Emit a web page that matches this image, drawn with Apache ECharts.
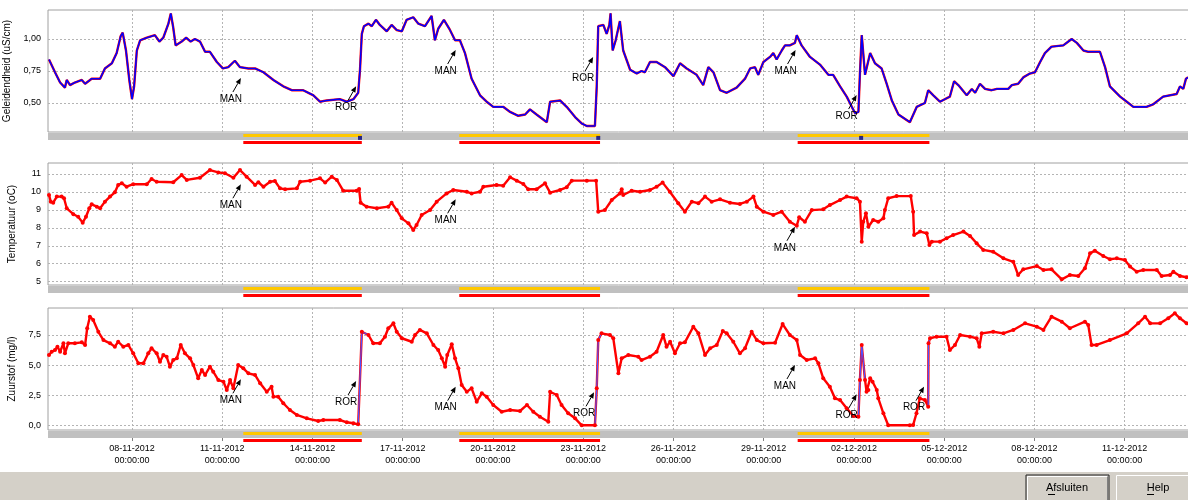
<!DOCTYPE html>
<html>
<head>
<meta charset="utf-8">
<script src="https://cdn.jsdelivr.net/npm/echarts@6/dist/echarts.min.js"></script>
<style>
  body { margin: 0; background: #fff; }
  #chart { width: 1188px; height: 500px; }
</style>
</head>
<body>
<div id="chart"></div>
<script>
// x values are day numbers counted from 1 november 2012 (december = 30 + day)
var tickDays = [8, 11, 14, 17, 20, 23, 26, 29, 32, 35, 38, 41];

var geleidendheid = [
  [5.24,0.84],[5.44,0.74],[5.61,0.66],[5.77,0.62],[5.83,0.68],[5.94,0.64],[6.10,0.66],[6.33,0.68],[6.44,0.65],[6.66,0.69],
  [6.94,0.69],[7.10,0.77],[7.33,0.81],[7.49,0.89],[7.62,1.02],[7.69,1.05],[7.80,0.91],[7.91,0.68],[8.00,0.53],[8.07,0.63],
  [8.16,0.91],[8.27,0.99],[8.49,1.01],[8.76,1.03],[8.91,0.98],[9.04,1.01],[9.21,1.12],[9.29,1.20],[9.37,1.09],[9.45,0.95],
  [9.65,0.98],[9.80,1.01],[9.95,0.98],[10.09,1.00],[10.26,0.98],[10.43,0.90],[10.59,0.90],[10.82,0.82],[11.02,0.77],[11.20,0.78],
  [11.42,0.83],[11.59,0.78],[11.87,0.77],[12.09,0.77],[12.37,0.74],[12.70,0.68],[13.03,0.63],[13.31,0.60],[13.69,0.60],[14.03,0.56],
  [14.25,0.51],[14.47,0.52],[14.91,0.53],[15.14,0.51],[15.36,0.53],[15.52,0.58],[15.58,0.76],[15.64,1.04],[15.71,1.10],[15.86,1.12],
  [15.97,1.10],[16.11,1.15],[16.24,1.11],[16.47,1.06],[16.63,1.11],[16.80,1.07],[16.97,1.06],[17.13,1.15],[17.35,1.17],[17.52,1.12],
  [17.74,1.10],[17.96,1.18],[18.07,0.99],[18.18,1.08],[18.37,1.15],[18.55,1.08],[18.74,0.99],[18.90,0.99],[19.07,0.89],[19.29,0.69],
  [19.57,0.56],[19.79,0.51],[20.01,0.47],[20.34,0.47],[20.57,0.43],[20.84,0.40],[21.07,0.41],[21.23,0.45],[21.45,0.41],[21.79,0.35],
  [21.90,0.51],[22.23,0.52],[22.45,0.47],[22.73,0.39],[22.95,0.34],[23.12,0.32],[23.39,0.32],[23.45,0.63],[23.50,1.10],[23.67,1.11],
  [23.78,1.04],[23.87,1.11],[23.91,1.20],[23.98,0.91],[24.08,0.99],[24.22,1.14],[24.33,0.91],[24.56,0.76],[24.78,0.73],[24.94,0.75],
  [25.05,0.74],[25.22,0.82],[25.44,0.82],[25.72,0.78],[26.00,0.71],[26.22,0.81],[26.44,0.77],[26.77,0.72],[26.99,0.64],[27.16,0.78],
  [27.33,0.74],[27.55,0.60],[27.77,0.58],[28.10,0.62],[28.38,0.69],[28.55,0.77],[28.71,0.78],[28.82,0.72],[28.99,0.82],[29.21,0.86],
  [29.32,0.89],[29.43,0.84],[29.60,0.91],[29.71,0.95],[29.87,0.95],[30.04,0.97],[30.10,1.03],[30.26,0.95],[30.54,0.86],[30.87,0.80],
  [31.15,0.72],[31.31,0.72],[31.54,0.63],[31.76,0.55],[31.93,0.47],[32.04,0.42],[32.15,0.43],[32.20,0.73],[32.26,1.03],[32.37,0.72],
  [32.54,0.89],[32.70,0.81],[32.92,0.77],[33.09,0.65],[33.26,0.52],[33.48,0.41],[33.86,0.35],[34.09,0.47],[34.36,0.50],[34.47,0.60],
  [34.64,0.56],[34.86,0.51],[35.19,0.55],[35.33,0.67],[35.47,0.64],[35.75,0.56],[35.92,0.61],[36.03,0.58],[36.19,0.65],[36.36,0.61],
  [36.58,0.60],[36.75,0.61],[37.13,0.61],[37.25,0.64],[37.46,0.65],[37.63,0.70],[37.85,0.73],[38.02,0.74],[38.19,0.82],[38.35,0.89],
  [38.57,0.94],[38.96,0.95],[39.24,1.00],[39.41,0.97],[39.63,0.91],[39.79,0.90],[40.18,0.90],[40.35,0.78],[40.51,0.63],[40.85,0.55],
  [41.07,0.51],[41.29,0.47],[41.73,0.47],[41.95,0.49],[42.28,0.55],[42.73,0.57],[42.84,0.63],[42.95,0.61],[43.04,0.69],[43.11,0.70]
];

var temperatuur = [
  [5.24,9.83],[5.30,9.46],[5.38,9.40],[5.50,9.74],[5.66,9.74],[5.74,9.65],[5.83,9.09],[6.05,8.76],[6.21,8.62],[6.36,8.29],
  [6.47,8.62],[6.58,9.09],[6.66,9.31],[6.83,9.18],[6.94,9.09],[7.10,9.46],[7.27,9.74],[7.43,9.98],[7.54,10.39],[7.66,10.48],
  [7.82,10.29],[8.04,10.43],[8.49,10.43],[8.65,10.72],[8.82,10.57],[9.37,10.54],[9.65,10.94],[9.82,10.67],[10.26,10.79],[10.59,11.22],
  [10.87,11.09],[11.09,11.04],[11.37,10.79],[11.59,11.22],[11.81,10.85],[12.09,10.39],[12.20,10.54],[12.37,10.29],[12.59,10.57],[12.75,10.61],
  [12.92,10.20],[13.09,10.15],[13.48,10.20],[13.59,10.57],[13.92,10.63],[14.25,10.76],[14.42,10.52],[14.64,10.85],[14.81,10.67],[15.02,10.07],
  [15.47,10.07],[15.55,10.16],[15.60,9.40],[15.80,9.18],[16.14,9.09],[16.52,9.18],[16.63,9.40],[16.80,8.99],[16.97,8.53],[17.19,8.25],
  [17.35,7.88],[17.46,8.16],[17.63,8.72],[17.91,8.99],[18.13,9.46],[18.46,9.92],[18.68,10.11],[19.13,10.01],[19.29,9.92],[19.57,10.01],
  [19.68,10.29],[20.12,10.39],[20.34,10.35],[20.57,10.82],[20.79,10.63],[21.01,10.44],[21.17,10.15],[21.45,10.15],[21.73,10.48],[21.90,9.96],
  [22.23,10.11],[22.45,10.26],[22.62,10.63],[23.12,10.63],[23.43,10.63],[23.50,8.90],[23.72,8.99],[23.95,9.55],[24.22,9.92],[24.28,10.15],
  [24.33,9.83],[24.61,10.07],[24.89,10.01],[25.22,10.11],[25.44,10.29],[25.64,10.52],[25.88,10.01],[26.16,9.37],[26.38,8.90],[26.61,9.46],
  [26.83,9.37],[27.05,9.74],[27.27,9.46],[27.55,9.59],[27.88,9.40],[28.21,9.33],[28.44,9.46],[28.66,9.74],[28.77,9.18],[28.99,8.90],
  [29.32,8.72],[29.60,8.90],[29.87,8.34],[30.10,8.12],[30.18,8.59],[30.37,8.34],[30.60,8.99],[30.98,9.03],[31.20,9.27],[31.54,9.55],
  [31.76,9.74],[32.09,9.65],[32.20,9.46],[32.26,7.23],[32.31,8.34],[32.40,8.81],[32.48,8.06],[32.64,8.44],[32.81,8.34],[32.98,8.53],
  [33.03,8.99],[33.14,9.65],[33.42,9.77],[33.89,9.77],[33.97,8.90],[34.00,7.60],[34.20,7.79],[34.42,7.70],[34.51,7.04],[34.59,7.23],
  [34.86,7.23],[35.08,7.42],[35.30,7.60],[35.64,7.79],[35.86,7.55],[36.08,7.14],[36.30,6.77],[36.63,6.67],[36.97,6.30],[37.30,6.11],
  [37.46,5.37],[37.63,5.69],[38.08,5.87],[38.30,5.65],[38.57,5.69],[38.91,5.13],[39.18,5.37],[39.46,5.32],[39.68,5.75],[39.85,6.58],
  [40.01,6.73],[40.29,6.43],[40.51,6.25],[40.74,6.30],[41.01,6.21],[41.18,5.84],[41.40,5.56],[41.62,5.65],[42.07,5.65],[42.23,5.32],
  [42.51,5.37],[42.62,5.56],[42.84,5.32],[43.06,5.25]
];

var zuurstof = [
  [5.24,5.84],[5.33,6.11],[5.44,6.25],[5.52,6.53],[5.61,6.11],[5.72,6.81],[5.77,5.98],[5.88,6.81],[6.10,6.81],[6.33,6.89],
  [6.44,6.67],[6.51,8.06],[6.60,9.02],[6.71,8.75],[6.88,7.77],[7.05,7.08],[7.27,6.81],[7.43,6.53],[7.54,6.94],[7.71,6.53],
  [7.88,6.67],[8.04,5.98],[8.21,5.15],[8.38,5.15],[8.54,5.98],[8.65,6.40],[8.82,5.98],[8.93,5.28],[9.04,5.84],[9.15,5.70],
  [9.26,4.87],[9.37,5.42],[9.49,5.56],[9.62,6.67],[9.76,5.98],[9.93,5.56],[10.04,5.01],[10.20,3.90],[10.32,4.59],[10.43,4.18],
  [10.59,4.87],[10.70,4.45],[10.87,3.76],[11.04,3.62],[11.15,2.93],[11.26,3.76],[11.37,3.07],[11.53,5.01],[11.70,4.73],[11.87,4.32],
  [12.09,4.18],[12.26,3.49],[12.48,2.79],[12.64,3.21],[12.70,2.38],[12.86,2.38],[13.03,1.83],[13.25,1.27],[13.48,0.86],[13.81,0.58],
  [14.19,0.36],[14.36,0.44],[14.91,0.44],[15.14,0.25],[15.36,0.17],[15.52,0.08],[15.64,7.77],[15.86,7.50],[16.02,6.81],[16.24,6.81],
  [16.41,7.36],[16.52,8.06],[16.69,8.47],[16.80,7.77],[16.97,7.23],[17.30,6.94],[17.41,7.50],[17.57,7.92],[17.80,7.64],[18.02,6.67],
  [18.18,6.25],[18.30,5.56],[18.41,4.87],[18.48,5.84],[18.63,6.73],[18.74,5.56],[18.85,4.73],[18.96,3.35],[19.13,2.79],[19.29,3.07],
  [19.46,1.96],[19.63,2.66],[19.79,2.38],[20.01,1.69],[20.29,1.13],[20.57,1.27],[20.90,1.19],[21.13,1.69],[21.34,1.13],[21.56,0.71],
  [21.84,0.30],[21.90,2.79],[22.12,2.52],[22.28,1.69],[22.50,1.00],[22.73,0.58],[22.95,0.00],[23.39,0.00],[23.45,3.07],[23.50,7.08],
  [23.61,7.64],[23.89,7.50],[24.00,7.23],[24.17,4.32],[24.28,5.56],[24.50,5.84],[24.83,5.70],[24.94,5.42],[25.22,5.70],[25.44,6.11],
  [25.66,7.50],[25.77,6.53],[25.89,6.94],[26.05,5.98],[26.22,6.81],[26.38,6.89],[26.66,8.19],[26.83,7.64],[27.05,5.84],[27.22,6.40],
  [27.44,6.67],[27.64,7.83],[27.77,7.64],[27.99,6.94],[28.21,5.98],[28.38,6.40],[28.60,7.77],[28.77,7.08],[28.99,6.81],[29.38,6.86],
  [29.63,8.41],[29.87,7.50],[30.10,7.08],[30.21,5.84],[30.43,5.42],[30.71,5.56],[30.82,5.15],[30.98,3.90],[31.20,3.21],[31.37,2.24],
  [31.54,2.10],[31.76,1.41],[31.98,0.77],[32.15,0.71],[32.20,3.76],[32.26,6.67],[32.37,3.76],[32.42,2.79],[32.48,2.93],[32.54,3.90],
  [32.62,3.62],[32.76,2.93],[32.81,2.24],[32.98,1.00],[33.14,0.00],[33.86,0.00],[33.97,0.03],[34.08,1.00],[34.19,2.24],[34.36,2.10],
  [34.47,1.55],[34.48,6.81],[34.53,7.23],[34.75,7.36],[35.08,7.36],[35.19,6.25],[35.36,6.67],[35.53,7.50],[35.86,7.36],[36.08,7.23],
  [36.17,6.53],[36.25,7.64],[36.63,7.77],[36.97,7.64],[37.30,7.92],[37.69,8.47],[38.08,8.19],[38.30,7.92],[38.57,9.02],[38.91,8.61],
  [39.18,8.06],[39.68,8.61],[39.79,8.33],[39.90,6.67],[40.07,6.67],[40.51,7.08],[41.07,7.64],[41.45,8.47],[41.68,9.02],[41.85,8.47],
  [42.18,8.47],[42.45,8.89],[42.67,9.30],[42.84,8.89],[43.06,8.47]
];

// days where the oxygen line jumps in blue (start of the jump)
var zuurstofSprongen = [15.52, 15.64, 23.39, 23.45, 23.50, 32.15, 32.20, 32.26, 34.47, 34.48];

// periods shown as yellow / red bars under every panel
var perioden = [[11.70, 15.64], [18.88, 23.56], [30.13, 34.51]];
var rorMomenten = [15.58, 23.50, 32.24];

// annotations: [day, value at arrow tip, text]
var notesGeleiding = [[11.62,0.695,'MAN'],[15.45,0.63,'ROR'],[18.76,0.914,'MAN'],[23.33,0.859,'ROR'],[30.06,0.914,'MAN'],[32.09,0.562,'ROR']];
var notesTemp = [[11.62,10.43,'MAN'],[18.76,9.59,'MAN'],[30.04,8.06,'MAN']];
var notesZuurstof = [[11.62,3.82,'MAN'],[15.45,3.68,'ROR'],[18.76,3.21,'MAN'],[23.36,2.74,'ROR'],[30.04,5.01,'MAN'],[32.09,2.57,'ROR'],[34.33,3.21,'ROR']];

var X_MIN = 5.207, X_MAX = 43.14;
var TEXT_FONT = "'Liberation Sans', Arial, sans-serif";

function pad(n) { return String(n).padStart(2, '0'); }
function dayLabel(d) {
  var t = new Date(Date.UTC(2012, 10, 1) + Math.round((d - 1) * 24) * 3600000);
  return pad(t.getUTCDate()) + '-' + pad(t.getUTCMonth() + 1) + '-' + t.getUTCFullYear() +
    '\n' + pad(t.getUTCHours()) + ':' + pad(t.getUTCMinutes()) + ':' + pad(t.getUTCSeconds());
}

var gridLine = { show: true, lineStyle: { color: '#b4b4b4', type: [2, 2], width: 1 } };

function mainX(i) {
  return {
    type: 'value', gridIndex: i, min: X_MIN, max: X_MAX,
    axisLine: { show: false }, axisLabel: { show: false, customValues: tickDays },
    axisTick: { show: false, customValues: tickDays },
    splitLine: Object.assign({ customValues: tickDays }, gridLine)
  };
}
function stripX(i, labels) {
  return {
    type: 'value', gridIndex: i, min: X_MIN, max: X_MAX,
    axisLine: { show: false },
    axisTick: { show: labels, length: 3, customValues: tickDays, lineStyle: { color: '#808080' } },
    axisLabel: { show: labels, customValues: tickDays, margin: 5, formatter: dayLabel,
      fontFamily: TEXT_FONT, fontSize: 9, color: '#000', lineHeight: 12 },
    splitLine: { show: false }
  };
}
function mainY(i, min, max, ticks, name, fmt) {
  return {
    type: 'value', gridIndex: i, min: min, max: max,
    name: name, nameLocation: 'middle', nameGap: 31, nameRotate: 90,
    nameTextStyle: { fontFamily: TEXT_FONT, fontSize: 10, color: '#000' },
    axisLine: { show: false }, axisTick: { show: false, customValues: ticks },
    axisLabel: { customValues: ticks, formatter: fmt, margin: 7, fontFamily: TEXT_FONT, fontSize: 9, color: '#000' },
    splitLine: Object.assign({ customValues: ticks }, gridLine)
  };
}
function stripY(i) {
  return { type: 'value', gridIndex: i, min: 0, max: 1, show: false, splitLine: { show: false } };
}

function arrowRenderer(notes) {
  return function (params, api) {
    var tip = api.coord([api.value(0), api.value(1)]);
    var tail = [tip[0] - 8, tip[1] + 14];
    var ang = Math.atan2(tip[1] - tail[1], tip[0] - tail[0]);
    var len = 6, w = 2.6;
    var bx = tip[0] - len * Math.cos(ang), by = tip[1] - len * Math.sin(ang);
    var px = -Math.sin(ang) * w, py = Math.cos(ang) * w;
    return {
      type: 'group', children: [
        { type: 'line', shape: { x1: tail[0], y1: tail[1], x2: bx, y2: by }, style: { stroke: '#000', lineWidth: 1 } },
        { type: 'polygon', shape: { points: [tip, [bx + px, by + py], [bx - px, by - py]] }, style: { fill: '#000' } },
        { type: 'text', x: tip[0] - 10, y: tip[1] + 21,
          style: { text: notes[params.dataIndex][2], align: 'center', verticalAlign: 'middle',
            font: '10px ' + TEXT_FONT, fill: '#000' } }
      ]
    };
  };
}
function annotations(i, notes) {
  return {
    type: 'custom', xAxisIndex: i, yAxisIndex: i, clip: false, z: 5,
    renderItem: arrowRenderer(notes),
    data: notes.map(function (n) { return [n[0], n[1]]; })
  };
}
function periodBars(i) {
  return {
    type: 'custom', xAxisIndex: i, yAxisIndex: i, clip: false, z: 3,
    renderItem: function (params, api) {
      var x0 = api.coord([api.value(0), 0])[0];
      var x1 = api.coord([api.value(1), 0])[0];
      var top = params.coordSys.y;
      return { type: 'group', children: [
        { type: 'rect', shape: { x: x0, y: top + 1, width: x1 - x0, height: 3 }, style: { fill: '#ffc800' } },
        { type: 'rect', shape: { x: x0, y: top + 8, width: x1 - x0, height: 3 }, style: { fill: '#ff0000' } }
      ] };
    },
    data: perioden
  };
}

// blue jump segments built from the oxygen series
var sprongData = [];
zuurstof.forEach(function (p, k) {
  if (zuurstofSprongen.indexOf(p[0]) >= 0 && k + 1 < zuurstof.length) {
    sprongData.push(p, zuurstof[k + 1], [p[0], null]);
  }
});

var chart = echarts.init(document.getElementById('chart'), null, { renderer: 'canvas' });

var gridBase = { left: 48, right: -1, outerBoundsMode: 'none', containLabel: false,
  show: true, backgroundColor: '#fff', borderColor: '#a0a0a0', borderWidth: 1 };
var stripBase = { left: 48, right: -1, height: 7, outerBoundsMode: 'none', containLabel: false,
  show: true, backgroundColor: '#c0c0c0', borderWidth: 0 };

chart.setOption({
  animation: false,
  backgroundColor: '#fff',
  grid: [
    Object.assign({ top: 10, height: 122 }, gridBase),
    Object.assign({ top: 163, height: 122 }, gridBase),
    Object.assign({ top: 308, height: 122 }, gridBase),
    Object.assign({ top: 133 }, stripBase),
    Object.assign({ top: 286 }, stripBase),
    Object.assign({ top: 431 }, stripBase)
  ],
  xAxis: [mainX(0), mainX(1), mainX(2), stripX(3, false), stripX(4, false), stripX(5, true)],
  yAxis: [
    mainY(0, 0.2734, 1.2266, [0.5, 0.75, 1.0], 'Geleidendheid (uS/cm)', function (v) { return v.toFixed(2).replace('.', ','); }),
    mainY(1, 4.816, 11.613, [5, 6, 7, 8, 9, 10, 11], 'Temperatuur (oC)', function (v) { return String(v); }),
    mainY(2, -0.39, 9.743, [0, 2.5, 5, 7.5], 'Zuurstof (mg/l)', function (v) { return v.toFixed(1).replace('.', ','); }),
    stripY(3), stripY(4), stripY(5)
  ],
  series: [
    { type: 'line', xAxisIndex: 0, yAxisIndex: 0, data: geleidendheid, showSymbol: false,
      lineStyle: { color: '#ff0000', width: 2.4 } },
    { type: 'line', xAxisIndex: 0, yAxisIndex: 0, data: geleidendheid, showSymbol: false,
      lineStyle: { color: '#0000ff', width: 1.6 } },
    annotations(0, notesGeleiding),
    { type: 'line', xAxisIndex: 1, yAxisIndex: 1, data: temperatuur, symbol: 'circle', symbolSize: 4,
      itemStyle: { color: '#ff0000' }, lineStyle: { color: '#ff0000', width: 2.4 } },
    annotations(1, notesTemp),
    { type: 'line', xAxisIndex: 2, yAxisIndex: 2, data: zuurstof, symbol: 'circle', symbolSize: 4,
      itemStyle: { color: '#ff0000' }, lineStyle: { color: '#ff0000', width: 2.4 } },
    { type: 'line', xAxisIndex: 2, yAxisIndex: 2, data: sprongData, showSymbol: false, connectNulls: false, z: 3,
      lineStyle: { color: '#5050ff', width: 1.2 } },
    annotations(2, notesZuurstof),
    periodBars(3), periodBars(4), periodBars(5),
    { type: 'scatter', xAxisIndex: 3, yAxisIndex: 3, symbol: 'rect', symbolSize: 4, z: 4,
      itemStyle: { color: '#000080' }, data: rorMomenten.map(function (d) { return [d, 0.3]; }) }
  ],
  graphic: [
    { type: 'rect', shape: { x: 0, y: 472, width: 1188, height: 28 }, style: { fill: '#d4d0c8' } },
    // Afsluiten button (default button, dark outline)
    { type: 'rect', shape: { x: 1026, y: 475, width: 83, height: 27 }, style: { fill: '#d4d0c8', stroke: '#202020', lineWidth: 1 } },
    { type: 'polyline', shape: { points: [[1027.5, 501], [1027.5, 476.5], [1107.5, 476.5]] }, style: { stroke: '#ffffff', fill: null, lineWidth: 1 } },
    { type: 'polyline', shape: { points: [[1107.5, 476.5], [1107.5, 501]] }, style: { stroke: '#808080', fill: null, lineWidth: 1 } },
    { type: 'text', x: 1067, y: 488, style: { text: 'Afsluiten', font: '11px ' + TEXT_FONT, fill: '#000', align: 'center', verticalAlign: 'middle' } },
    { type: 'line', shape: { x1: 1048, y1: 494.5, x2: 1055, y2: 494.5 }, style: { stroke: '#000', lineWidth: 1 } },
    // Help button
    { type: 'rect', shape: { x: 1116.5, y: 475.5, width: 80, height: 27 }, style: { fill: '#d4d0c8', stroke: '#ffffff', lineWidth: 1 } },
    { type: 'text', x: 1158, y: 488, style: { text: 'Help', font: '11px ' + TEXT_FONT, fill: '#000', align: 'center', verticalAlign: 'middle' } },
    { type: 'line', shape: { x1: 1147, y1: 494.5, x2: 1154, y2: 494.5 }, style: { stroke: '#000', lineWidth: 1 } }
  ]
});
</script>
</body>
</html>
